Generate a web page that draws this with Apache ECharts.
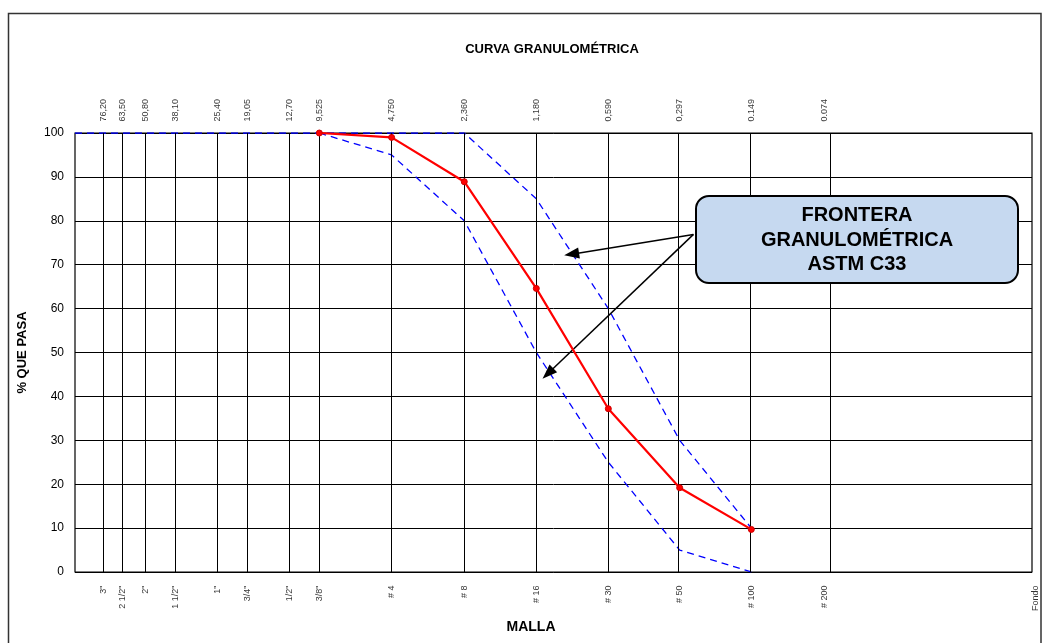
<!DOCTYPE html>
<html>
<head>
<meta charset="utf-8">
<script src="https://cdn.jsdelivr.net/npm/echarts@6/dist/echarts.min.js"></script>
<style>html,body{margin:0;padding:0;background:#fff;}#chart{width:1042px;height:643px;}</style>
</head>
<body>
<div id="chart"></div>
<script>
// Sieve openings (mm) and their labels
const sizesMm = [76.2, 63.5, 50.8, 38.1, 25.4, 19.05, 12.7, 9.525, 4.75, 2.36, 1.18, 0.59, 0.297, 0.149, 0.074];
const sizeLabels = ['76,20', '63,50', '50,80', '38,10', '25,40', '19,05', '12,70', '9,525', '4,750', '2,360', '1,180', '0,590', '0,297', '0.149', '0.074'];
const sievePositions = [76.2, 63.5, 50.8, 38.1, 25.4, 19.05, 12.7, 9.525, 4.75, 2.36, 1.18, 0.59, 0.297, 0.149, 0.074, 0.0097];
const sieveNames = ['3"', '2 1/2"', '2"', '1 1/2"', '1"', '3/4"', '1/2"', '3/8"', '# 4', '# 8', '# 16', '# 30', '# 50', '# 100', '# 200', 'Fondo'];

// Sample grading curve
const sampleSizes = [9.525, 4.75, 2.36, 1.18, 0.59, 0.297, 0.149];
const samplePass = [100, 99.0, 88.9, 64.6, 37.2, 19.2, 9.7];

// ASTM C33 limits
const upperSizes = [100, 9.525, 4.75, 2.36, 1.18, 0.59, 0.297, 0.149];
const upperPass = [100, 100, 100, 100, 85, 60, 30, 10];
const lowerSizes = [9.525, 4.75, 2.36, 1.18, 0.59, 0.297, 0.149];
const lowerPass = [100, 95, 80, 50, 25, 5, 0];

// Annotation arrows (start, arrowhead centre) in data coords
const arrowStart = [0.26, 76.9];
const arrowTips = [[0.84, 72.4], [1.055, 45.2]];

const yTicks = [0, 10, 20, 30, 40, 50, 60, 70, 80, 90, 100];

const FONT = 'Liberation Sans, Arial, sans-serif';
const zip = (xs, ys) => xs.map((x, i) => [x, ys[i]]);

const chart = echarts.init(document.getElementById('chart'));
chart.setOption({
  animation: false,
  backgroundColor: '#fff',
  title: {
    text: 'CURVA GRANULOMÉTRICA',
    left: 547, top: 38, textAlign: 'center',
    textStyle: {fontFamily: FONT, fontSize: 13, fontWeight: 'bold', color: '#000'}
  },
  grid: {left: 75, right: 10, top: 133, bottom: 71, show: true, borderColor: '#000', borderWidth: 1.2, backgroundColor: 'transparent'},
  xAxis: {
    type: 'log', logBase: 10, min: 0.01, max: 100, inverse: true,
    axisLine: {show: false}, axisTick: {show: false}, axisLabel: {show: false}, splitLine: {show: false}
  },
  yAxis: {
    type: 'value', min: 0, max: 100, interval: 10,
    name: '% QUE PASA', nameLocation: 'middle', nameGap: 46, nameRotate: 90,
    nameTextStyle: {fontFamily: FONT, fontSize: 13, fontWeight: 'bold', color: '#000'},
    axisLine: {show: false}, axisTick: {show: false},
    axisLabel: {fontFamily: FONT, fontSize: 12, color: '#000', margin: 11, customValues: yTicks},
    splitLine: {show: true, lineStyle: {color: '#000', width: 1}}
  },
  graphic: [
    {type: 'rect', shape: {x: 8.5, y: 13.5, width: 1032.5, height: 640}, style: {fill: 'none', stroke: '#333', lineWidth: 1.5}, z: -10},
    {type: 'text', x: 531, y: 627, style: {text: 'MALLA', fontFamily: FONT, fontSize: 14, fontWeight: 'bold', fill: '#000', textAlign: 'center', textVerticalAlign: 'middle'}},
    {type: 'rect', shape: {x: 696, y: 196, width: 322, height: 87, r: 13}, style: {fill: '#c6d9f0', stroke: '#000', lineWidth: 2}, z: 100},
    {type: 'text', x: 857, y: 240, z: 101, style: {text: 'FRONTERA\nGRANULOMÉTRICA\nASTM C33', fontFamily: FONT, fontSize: 20, fontWeight: 'bold', fill: '#000', textAlign: 'center', textVerticalAlign: 'middle', lineHeight: 24.5}}
  ],
  series: [
    {
      type: 'line', name: 'grid', data: [], silent: true,
      markLine: {
        silent: true, symbol: 'none', animation: false,
        label: {show: false},
        lineStyle: {color: '#000', width: 1, type: 'solid'},
        data: sizesMm.map(v => ({xAxis: v}))
      }
    },
    {
      type: 'line', name: 'Límite superior', data: zip(upperSizes, upperPass),
      showSymbol: false, symbol: 'none', silent: true,
      lineStyle: {color: '#0000ff', width: 1.3, type: [7, 5]}, z: 3
    },
    {
      type: 'line', name: 'Límite inferior', data: zip(lowerSizes, lowerPass),
      showSymbol: false, symbol: 'none', silent: true,
      lineStyle: {color: '#0000ff', width: 1.3, type: [7, 5]}, z: 3
    },
    {
      type: 'line', name: 'Muestra', data: zip(sampleSizes, samplePass),
      symbol: 'circle', symbolSize: 6, silent: true,
      itemStyle: {color: '#ff0000', borderColor: '#cc0000', borderWidth: 1},
      lineStyle: {color: '#ff0000', width: 2.2}, z: 5
    },
    {
      type: 'scatter', name: 'mm', data: zip(sizesMm, sizesMm.map(() => 100)), clip: false, silent: true,
      symbolSize: 1, itemStyle: {color: 'rgba(0,0,0,0)'},
      label: {
        show: true, position: 'top', distance: 11, rotate: 90, align: 'left', verticalAlign: 'middle',
        fontFamily: FONT, fontSize: 9, color: '#000',
        formatter: p => sizeLabels[p.dataIndex]
      }
    },
    {
      type: 'scatter', name: 'malla', data: zip(sievePositions, sievePositions.map(() => 0)), clip: false, silent: true,
      symbolSize: 1, itemStyle: {color: 'rgba(0,0,0,0)'},
      label: {
        show: true, position: 'bottom', distance: 13, rotate: 90, align: 'right', verticalAlign: 'middle',
        fontFamily: FONT, fontSize: 9, color: '#000',
        formatter: p => sieveNames[p.dataIndex]
      }
    },
    {
      type: 'line', name: 'flechas', data: [], silent: true,
      markLine: {
        silent: true, animation: false, symbol: ['none', 'triangle'], symbolSize: [11, 15],
        label: {show: false},
        itemStyle: {color: '#000'},
        lineStyle: {color: '#000', width: 1.5, type: 'solid'},
        data: arrowTips.map(t => [{coord: arrowStart}, {coord: t}])
      },
      z: 20
    }
  ]
});
</script>
</body>
</html>
